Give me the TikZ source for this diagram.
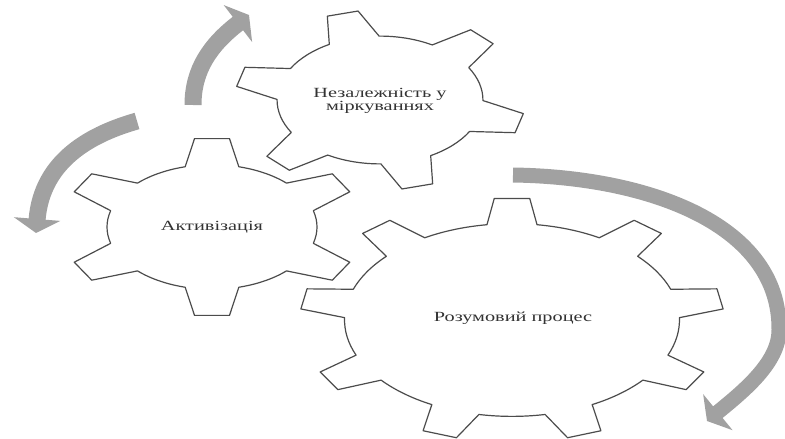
\documentclass[tikz,border=0pt]{standalone}
\usepackage{fontspec}
\setmainfont[FakeStretch=1.45]{Liberation Serif}
\usetikzlibrary{arrows.meta}

\tikzset{
  gearline/.style={draw=black!70, line width=1.2pt, fill=white, line join=round},
  gearlabel/.style={align=center, text=black!80, font=\fontsize{14}{12}\selectfont},
  roundarrow/.style={draw=black!37, line width=17pt, -{Triangle[width=46pt,length=14pt]}},
}
% gear: centre, x and y radius, teeth, first tooth, root radius, half tooth at tip and at root
\def\gear(#1)(#2,#3)[#4,#5,#6,#7,#8]{%
  \pgfmathtruncatemacro\lasttooth{#4-1}
  \begin{scope}[shift={(#1)},xscale=#2,yscale=#3]
    \draw[gearline] (#5-#8:#6)
      \foreach \k [evaluate=\k as \ang using #5+\k*360/#4] in {0,...,\lasttooth}{
        -- (\ang-#7:1) -- (\ang+#7:1) -- (\ang+#8:#6)
        arc[start angle=\ang+#8, end angle=\ang+360/#4-#8, radius=#6]
      } -- cycle;
  \end{scope}}

\begin{document}
\begin{tikzpicture}[x=1pt,y=-1pt]
			%%%%% START %%%%%
			\useasboundingbox (0,0) rectangle (785,439);
			
			\gear(212,227)(150,89)[6,90,0.70,6.7,14.8]
			\gear(380,100)(145,90)[6,255,0.71,6.3,14.5]
			\gear(512,320)(212,122)[9,30,0.79,4.8,8.6]
			
			\node[gearlabel] (activ) at (212,227) {Активізація};
			\node[gearlabel] (nezal) at (380,101) {Незалежність у\\міркуваннях};
			\node[gearlabel] (rozum) at (513,318) {Розумовий процес};
			
			\draw[roundarrow] (193,105) .. controls (193,70) and (210,45) .. (249,15);
			\draw[roundarrow] (137,121) .. controls (95,133) and (42,158) .. (36,233);
			\draw[roundarrow, line width=15pt] (513,175) .. controls (650,177) and (780,225) .. (779,330)
			  .. controls (779,362) and (745,390) .. (707,421);
			
			%%%%% END %%%%%
\end{tikzpicture}
\end{document}
